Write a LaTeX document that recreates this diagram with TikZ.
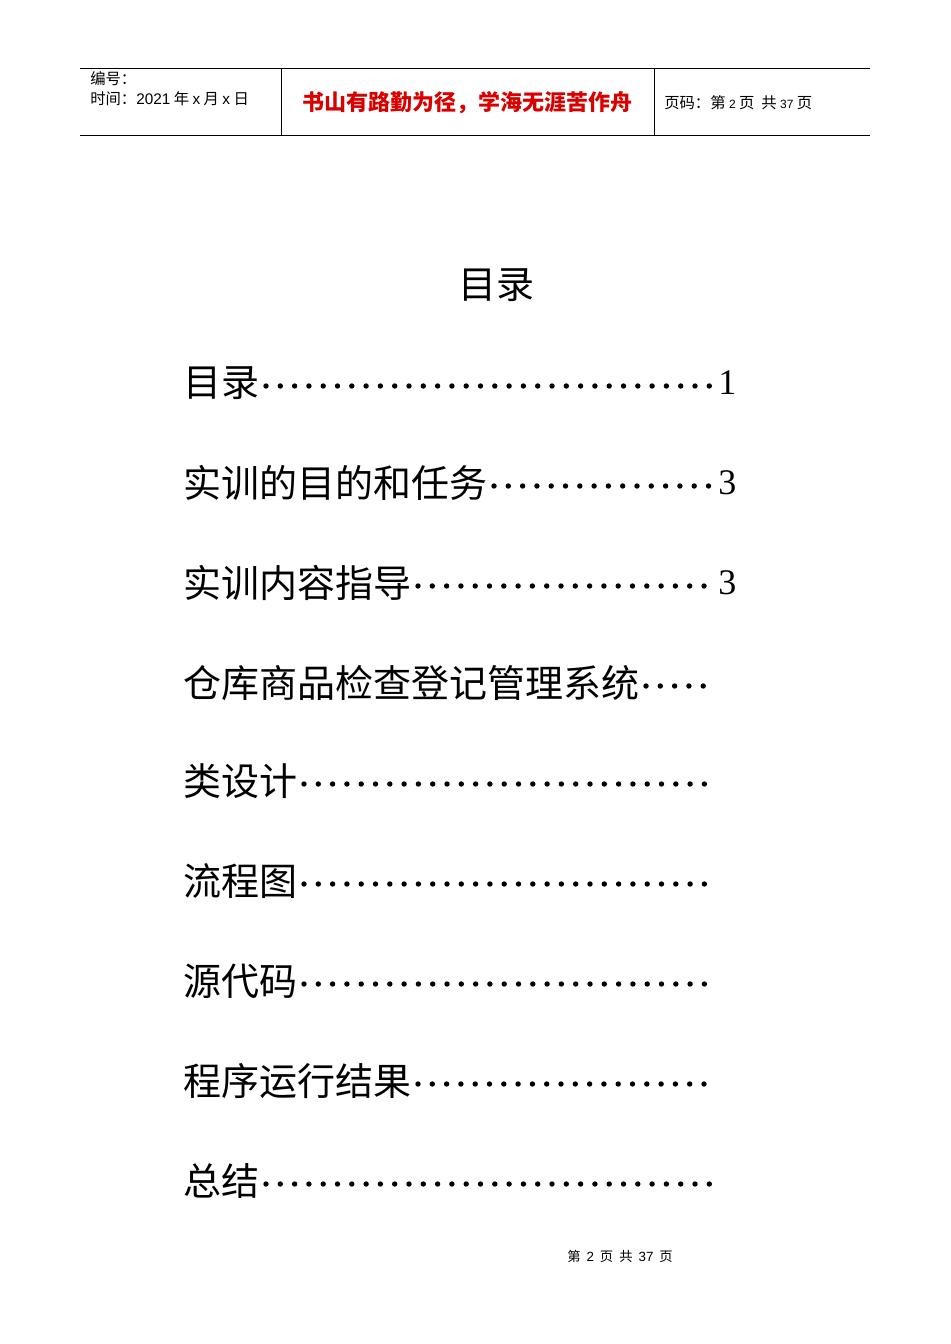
\documentclass[tikz,border=0pt]{standalone}
\usepackage{fontspec}
\setmainfont{Liberation Serif}
\newfontfamily\cjk{Noto Sans CJK SC}
\newfontfamily\hsans{Liberation Sans}
\begin{document}
\begin{tikzpicture}[x=0.75pt,y=-0.75pt,
  hdr/.style={anchor=west,inner sep=0pt,font=\cjk\fontsize{11.5}{12}\selectfont},
  toc/.style={anchor=west,inner sep=0pt,font=\cjk\fontsize{28.5}{30}\selectfont},
  num/.style={anchor=west,inner sep=0pt,font=\fontsize{27}{30}\selectfont}]
\useasboundingbox (0,0) rectangle (950,1344);
\fill[white] (0,0) rectangle (950,1344);
% header
\draw[line width=0.6pt] (80,68) -- (870,68);
\draw[line width=0.6pt] (80,135) -- (870,135);
\draw[line width=0.6pt] (281,68) -- (281,135);
\draw[line width=0.6pt] (654,68) -- (654,135);
\node[hdr] (h1) at (90,79) {编号：};
\node[hdr] (h2) at (90,99) {时间：{\hsans 2021} 年 {\hsans x} 月 {\hsans x} 日};
\node[inner sep=0pt,text=red!85!black,font=\cjk\bfseries\fontsize{16.5}{18}\selectfont] (motto) at (467,103) {书山有路勤为径，学海无涯苦作舟};
\node[hdr] (h3) at (664,103) {页码：第 {\hsans\small 2} 页\ \ 共 {\hsans\small 37} 页};
% title
\node[inner sep=0pt,font=\cjk\fontsize{28.5}{30}\selectfont] (title) at (496,285) {目录};
% entries
\foreach \t/\n/\y/\num [count=\i] in {
  目录/2/383/1, 实训的目的和任务/8/483/3, 实训内容指导/6/583/3,
  仓库商品检查登记管理系统/12/683/, 类设计/3/781/, 流程图/3/881/,
  源代码/3/981/, 程序运行结果/6/1081/, 总结/2/1181/}{
  \node[toc] (e\i) at (183,\y) {\t};
  \pgfmathsetmacro\s{183+\n*38+7}
  \pgfmathsetmacro\ss{\s+14.3}
  \foreach \x in {\s,\ss,...,716}{\fill (\x,\y+3) circle (2.7);}
  \node[num] (n\i) at (718,\y) {\num};
}
% footer
\node[inner sep=0pt,font=\cjk\fontsize{10}{12}\selectfont] (foot) at (620,1256) {第\ \ {\hsans 2}\ \ 页\ \ 共\ \ {\hsans 37}\ \ 页};
\end{tikzpicture}
\end{document}
